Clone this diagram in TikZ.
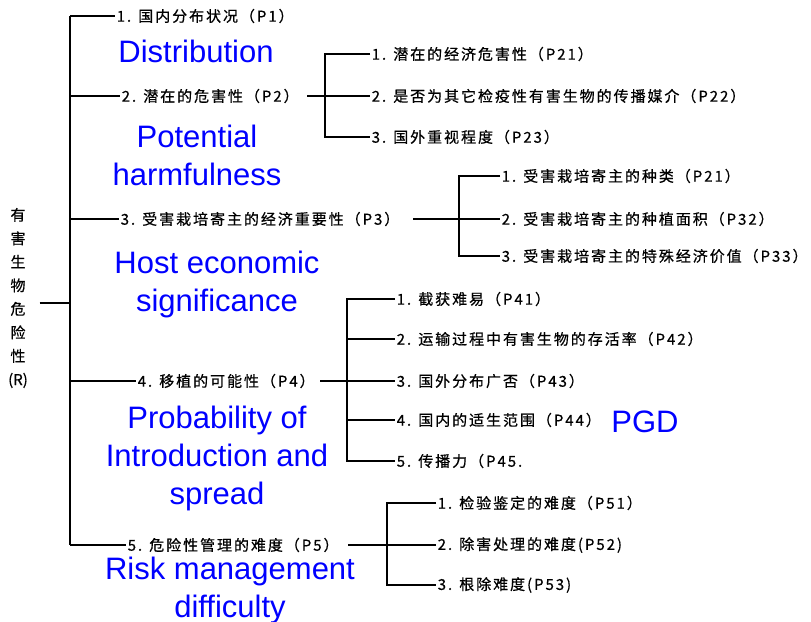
\documentclass[tikz,border=0pt]{standalone}
\usepackage{fontspec}
\setmainfont{Liberation Sans}
\newfontfamily\cjk[LetterSpace=13,FakeBold=0.6]{Noto Sans CJK SC}
\newfontfamily\cjkplain[FakeBold=0.6]{Noto Sans CJK SC}
\usetikzlibrary{positioning}

\begin{document}
\begin{tikzpicture}[x=1pt,y=-1pt,line width=1.5pt]
    \tikzstyle{item}=[font=\fontsize{15}{17}\cjk, anchor=west, inner sep=1pt]
    \tikzstyle{note}=[font=\fontsize{31}{38}\selectfont, text=blue, align=center, inner sep=0pt]
    \tikzstyle{root}=[font=\fontsize{15}{23.5}\cjkplain, align=center, inner sep=0pt]
    \def\trunkx{70}

    \useasboundingbox (0,0) rectangle (811,621);

    % Root label, set vertically
    \node[root] (R) at (18,298) {有\\害\\生\\物\\危\\险\\性\\(R)};
    \coordinate (T-0) at (\trunkx,303);
    \draw[shorten <=11pt] (R.east |- T-0) -- (T-0);

    % First level: the five factors on the trunk
    \foreach \name/\y/\x/\txt in {1/16/115/{1. 国内分布状况（P1）},
                                  2/96/120/{2. 潜在的危害性（P2）},
                                  3/219/119/{3. 受害栽培寄主的经济重要性（P3）},
                                  4/381/136/{4. 移植的可能性（P4）},
                                  5/545/126/{5. 危险性管理的难度（P5）}}
    {
        \node[item] (P\name) at (\x,\y) {\txt};
        \coordinate (T-\name) at (\trunkx,\y);
        \draw (T-\name) -- (P\name.west);
    }
    \draw (T-1) -- (T-5);

    % Second level under P2
    \foreach \name/\y/\txt in {1/54/{1. 潜在的经济危害性（P21）},
                               2/96/{2. 是否为其它检疫性有害生物的传播媒介（P22）},
                               3/137/{3. 国外重视程度（P23）}}
        \node[item] (P2\name) at (370,\y) {\txt};
    \coordinate (B-2) at (325,0);
    \draw (P21.west) -| (B-2 |- P23.west) -- (P23.west);
    \draw[shorten <=7pt] (P2.east) -- (P22.west);

    % Second level under P3
    \foreach \name/\y/\txt in {1/176/{1. 受害栽培寄主的种类（P21）},
                               2/219/{2. 受害栽培寄主的种植面积（P32）},
                               3/256/{3. 受害栽培寄主的特殊经济价值（P33）}}
        \node[item] (P3\name) at (500,\y) {\txt};
    \coordinate (B-3) at (459,0);
    \draw (P31.west) -| (B-3 |- P33.west) -- (P33.west);
    \draw[shorten <=12pt] (P3.east) -- (P32.west);

    % Second level under P4
    \foreach \name/\y/\txt in {1/299/{1. 截获难易（P41）},
                               2/339/{2. 运输过程中有害生物的存活率（P42）},
                               3/381/{3. 国外分布广否（P43）},
                               4/420/{4. 国内的适生范围（P44）},
                               5/461/{5. 传播力（P45.}}
        \node[item] (P4\name) at (395,\y) {\txt};
    \coordinate (B-4) at (347,0);
    \draw (P41.west) -| (B-4 |- P45.west) -- (P45.west);
    \foreach \name in {2,4}
        \draw (B-4 |- P4\name.west) -- (P4\name.west);
    \draw[shorten <=4pt] (P4.east) -- (P43.west);

    % Second level under P5
    \foreach \name/\y/\txt in {1/503/{1. 检验鉴定的难度（P51）},
                               2/545/{2. 除害处理的难度(P52)},
                               3/585/{3. 根除难度(P53)}}
        \node[item] (P5\name) at (436,\y) {\txt};
    \coordinate (B-5) at (387,0);
    \draw (P51.west) -| (B-5 |- P53.west) -- (P53.west);
    \draw[shorten <=8pt] (P5.east) -- (P52.west);

    % English annotations
    \node[note] (n1) at (196,51) {Distribution};
    \node[note] (n2) at (197,155) {Potential\\harmfulness};
    \node[note] (n3) at (217,284) {Host economic\\significance};
    \node[note] (n4) at (217,458) {Probability of\\Introduction and\\spread};
    \node[note] (n5) at (230,590) {Risk management\\difficulty};
    \node[note] (pgd) at (645,422) {PGD};
\end{tikzpicture}
\end{document}
